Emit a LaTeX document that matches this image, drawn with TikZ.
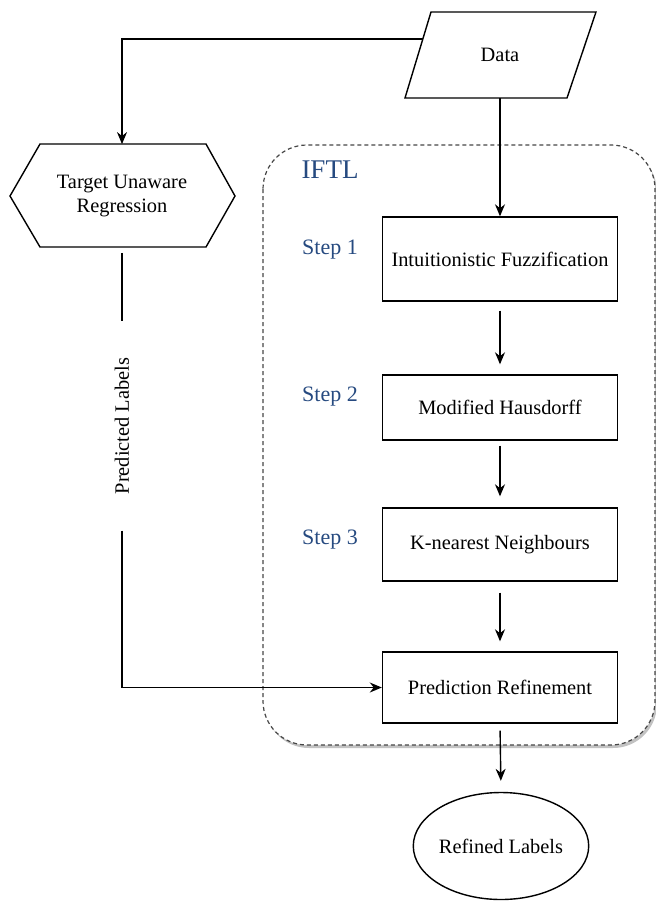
\documentclass[tikz,border=0pt]{standalone}
\usepackage{fontspec}
\setmainfont{Liberation Serif}
\usetikzlibrary{shapes.geometric,shadows,arrows.meta}
\definecolor{stepblue}{RGB}{38,74,128}
\definecolor{framegray}{RGB}{70,70,70}

\begin{document}
\begin{tikzpicture}[x=0.5pt,y=-0.5pt,
        every node/.style={font=\fontsize{10.2}{12}\selectfont},
        proc/.style={draw,line width=0.7pt,minimum width=117.5pt,inner sep=0pt},
        steplbl/.style={text=stepblue,font=\fontsize{11}{13}\selectfont},
        arr/.style={-{Stealth[length=6pt,width=5pt]},line width=0.7pt},
        ln/.style={line width=0.7pt}]

    \useasboundingbox (0,0) rectangle (656,902);

    % IFTL frame
    \draw [dashed,dash pattern=on 2pt off 1.5pt,framegray,line width=0.6pt,rounded corners=22pt,fill=white,
           drop shadow={shadow xshift=1pt,shadow yshift=-1.5pt,fill=black!40,opacity=0.6}]
           (263,145) rectangle (655,745);
    \node [text=stepblue,font=\fontsize{13.5}{15}\selectfont] (iftl) at (330,170) {IFTL};

    % data (parallelogram)
    \draw [ln] (431,12) -- (596,12) -- (567,98) -- (405,98) -- cycle;
    \node (data) at (500,55) {Data};
    \coordinate (dataL) at (423,39);
    \coordinate (dataB) at (500,98);

    % target unaware regression (hexagon)
    \draw [ln] (10,196) -- (40,144) -- (206,144) -- (235,196) -- (206,247) -- (40,247) -- cycle;
    \node [minimum height=51.5pt,inner sep=0pt,align=center] (tur) at (122,196) {Target Unaware\\Regression};

    % steps
    \node [proc,minimum height=42pt] (fuzz) at (500,259) {Intuitionistic Fuzzification};
    \node [proc,minimum height=32.5pt] (haus) at (500,407.5) {Modified Hausdorff};
    \node [proc,minimum height=36.5pt] (knn) at (500,544.5) {K-nearest Neighbours};
    \node [proc,minimum height=35.5pt] (refine) at (500,687.5) {Prediction Refinement};
    \node [draw,ellipse,line width=0.7pt,minimum width=81pt,minimum height=53.5pt,inner sep=0pt] (out) at (501,846) {Refined Labels};

    \node [steplbl] (s1) at (330,250) {Step 1};
    \node [steplbl] (s2) at (330,397) {Step 2};
    \node [steplbl] (s3) at (330,540) {Step 3};

    % predicted labels
    \node [rotate=90,inner xsep=18pt,inner ysep=0pt] (pred) at (122,426) {Predicted Labels};

    % connectors
    \draw [arr] (dataL) -| (tur.north);
    \draw [arr] (dataB) -- (fuzz.north);
    \draw [arr,shorten <=4.5pt,shorten >=5pt] (fuzz.south) -- (haus.north);
    \draw [arr,shorten <=2.5pt,shorten >=5.5pt] (haus.south) -- (knn.north);
    \draw [arr,shorten <=5.5pt,shorten >=5pt] (knn.south) -- (refine.north);
    \draw [arr,shorten <=3.5pt,shorten >=5.5pt] (refine.south) -- (out.north);
    \draw [ln,shorten <=2.5pt] (tur.south) -- (pred.east);
    \draw [arr] (pred.west) |- (refine.west);

\end{tikzpicture}
\end{document}
